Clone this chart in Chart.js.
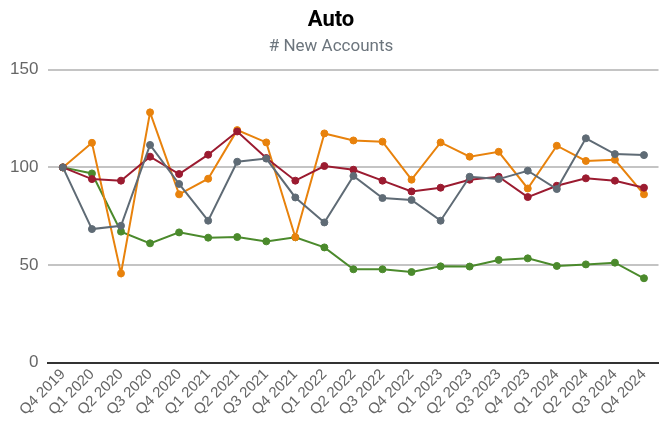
<!DOCTYPE html>
<html>
<head>
<meta charset="utf-8">
<script src="https://cdn.jsdelivr.net/npm/chart.js@4"></script>
<style>
  html, body { margin: 0; padding: 0; background: #fff; }
  #wrap { width: 663px; height: 424px; }
</style>
</head>
<body>
<div id="wrap"><canvas id="grafico"></canvas></div>
<script>
const quarters = ["Q4 2019", "Q1 2020", "Q2 2020", "Q3 2020", "Q4 2020", "Q1 2021", "Q2 2021",
  "Q3 2021", "Q4 2021", "Q1 2022", "Q2 2022", "Q3 2022", "Q4 2022", "Q1 2023", "Q2 2023",
  "Q3 2023", "Q4 2023", "Q1 2024", "Q2 2024", "Q3 2024", "Q4 2024"];

const serieCinza = [100, 68.4, 70.1, 111.5, 91.5, 72.7, 102.9, 104.5, 84.6, 71.8, 95.6,
  84.3, 83.3, 72.7, 95.2, 94.0, 98.3, 88.9, 114.9, 106.8, 106.3];
const serieVermelha = [100, 94.0, 93.2, 105.5, 96.6, 106.5, 118.4, 104.8, 93.2, 100.7, 98.8,
  93.2, 87.7, 89.6, 93.7, 95.2, 84.8, 90.6, 94.4, 93.2, 89.6];
const serieLaranja = [100, 112.6, 45.7, 128.2, 86.2, 94.2, 119.1, 112.8, 64.2, 117.4, 113.8,
  113.2, 93.7, 112.8, 105.5, 108.0, 89.2, 111.1, 103.3, 103.9, 86.2];
const serieVerde = [100, 96.9, 67.1, 61.1, 66.7, 64.0, 64.3, 62.1, 64.2, 59.0, 47.8,
  47.8, 46.4, 49.3, 49.2, 52.6, 53.4, 49.5, 50.3, 51.2, 43.2];

const yTicks = [0, 50, 100, 150];

function serie(data, cor) {
  return {
    data,
    borderColor: cor,
    backgroundColor: cor,
    borderWidth: 2,
    pointRadius: 3.5,
    pointBorderWidth: 1,
    pointHoverRadius: 3.5,
    tension: 0,
  };
}

new Chart(document.getElementById("grafico").getContext("2d"), {
  type: "line",
  data: {
    labels: quarters,
    datasets: [
      serie(serieCinza, "#5f6b75"),
      serie(serieVermelha, "#9b1b30"),
      serie(serieLaranja, "#e8820c"),
      serie(serieVerde, "#4b8a2c"),
    ],
  },
  options: {
    responsive: true,
    maintainAspectRatio: false,
    animation: false,
    layout: { padding: { left: 0, right: 1, top: 0, bottom: 2 } },
    plugins: {
      legend: { display: false },
      tooltip: { enabled: false },
      title: {
        display: true,
        text: "Auto",
        color: "#000",
        font: { family: "Roboto", size: 22, weight: "bold" },
        padding: { top: 7, bottom: 3 },
      },
      subtitle: {
        display: true,
        text: "# New Accounts",
        color: "#6c757d",
        font: { family: "Roboto", size: 17 },
        padding: { top: 0, bottom: 13 },
      },
    },
    scales: {
      x: {
        offset: true,
        grid: { display: false, drawTicks: false },
        border: { display: true, color: "#333", width: 2 },
        ticks: {
          color: "#666",
          font: { family: "Liberation Sans", size: 15 },
          maxRotation: 45,
          minRotation: 45,
          autoSkip: false,
          padding: 3,
        },
      },
      y: {
        min: 0,
        max: 150,
        afterBuildTicks: (axis) => {
          axis.ticks = yTicks.map((v) => ({ value: v }));
        },
        grid: { color: "#c4c4c4", lineWidth: 2, drawTicks: false },
        border: { display: false },
        ticks: {
          color: "#666",
          font: { family: "Liberation Sans", size: 17 },
          padding: 10,
        },
      },
    },
  },
});
</script>
</body>
</html>
